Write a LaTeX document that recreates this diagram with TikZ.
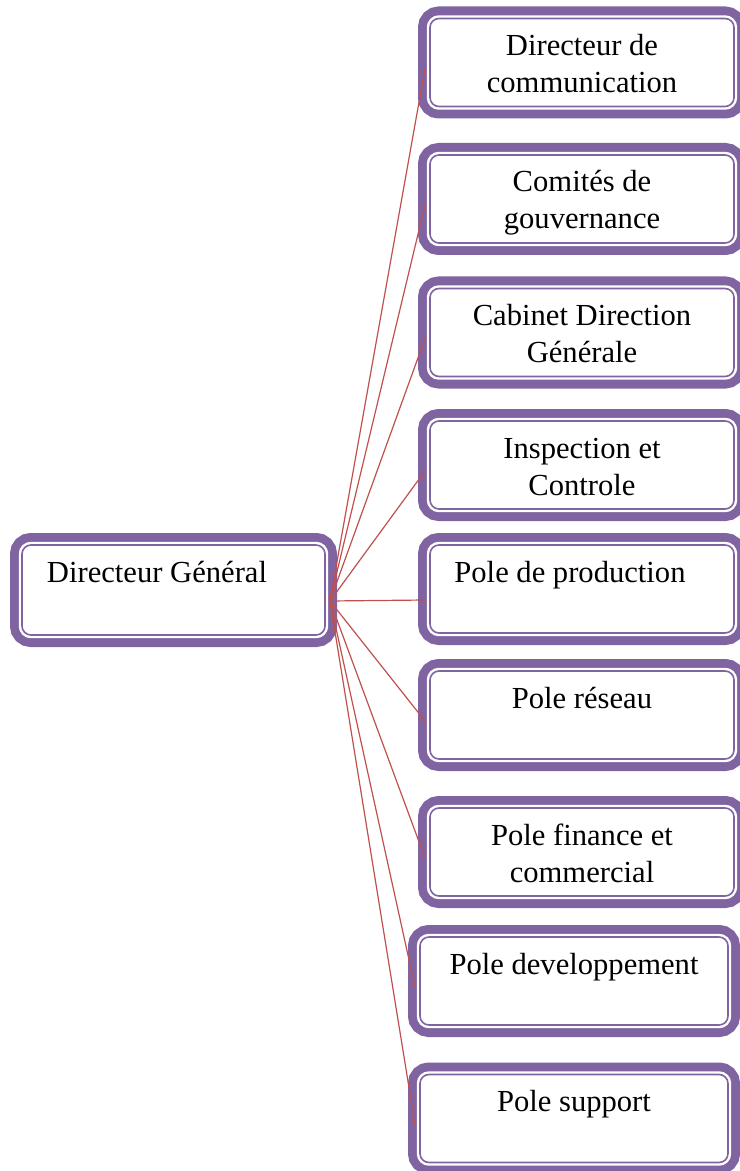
\documentclass[tikz,border=0pt]{standalone}
\usepackage{fontspec}
\setmainfont{Liberation Serif}
\usepackage{tikz}
\definecolor{boxcol}{RGB}{128,100,162}
\definecolor{linecol}{RGB}{192,80,77}
\newcommand{\orgtext}[2]{\parbox[c][44pt][t]{#1}{\centering\rule{0pt}{18.5pt}#2}}

\tikzset{
  orgbox/.style={rectangle, rounded corners=4.5pt, inner sep=0pt, outer sep=2.5pt,
    preaction={draw=boxcol, line width=12pt},
    preaction={draw=white, line width=3.2pt},
    fill=white, draw=boxcol, line width=0.8pt,
    font=\fontsize{15.3}{18.5}\selectfont},
  orgline/.style={draw=linecol, line width=0.6pt}
}

\begin{document}
\begin{tikzpicture}[x=0.5pt, y=-0.5pt]

    \useasboundingbox (0, 0) rectangle (739, 1171);

    \node[orgbox] (dg) at (173.5, 590) {\parbox[c][45pt][t]{151.5pt}{\hspace*{12.5pt}\rule{0pt}{18.5pt}Directeur Général}};

    \node[orgbox] (b1) at (582, 62.5) {\orgtext{152pt}{Directeur de\\communication}};
    \node[orgbox] (b2) at (582, 199) {\orgtext{152pt}{Comités de\\gouvernance}};
    \node[orgbox] (b3) at (582, 332.5) {\orgtext{152pt}{Cabinet Direction\\Générale}};
    \node[orgbox] (b4) at (582, 465) {\orgtext{152pt}{Inspection et\\Controle}};
    \node[orgbox] (b5) at (582, 589) {\orgtext{152pt}{Pole de production\hspace*{12pt}}};
    \node[orgbox] (b6) at (582, 715) {\orgtext{152pt}{Pole réseau}};
    \node[orgbox] (b7) at (582, 852) {\orgtext{152pt}{Pole finance et\\commercial}};
    \node[orgbox] (b8) at (574, 981) {\orgtext{154pt}{Pole developpement}};
    \node[orgbox] (b9) at (574, 1118.5) {\orgtext{154pt}{Pole support}};

    \coordinate (hub) at ([yshift=-5.5pt]dg.east);

    \draw[orgline] (hub) -- ([yshift=-3pt]b1.west);
    \draw[orgline] (hub) -- ([yshift=-3pt]b2.west);
    \draw[orgline] (hub) -- ([yshift=-3pt]b3.west);
    \draw[orgline] (hub) -- ([yshift=-3pt]b4.west);
    \draw[orgline] (hub) -- ([yshift=-5.5pt]b5.west);
    \draw[orgline] (hub) -- ([yshift=-3pt]b6.west);
    \draw[orgline] (hub) -- ([yshift=-3pt]b7.west);
    \draw[orgline] (hub) -- ([yshift=-3pt]b8.west);
    \draw[orgline] (hub) -- ([yshift=-3pt]b9.west);

\end{tikzpicture}
\end{document}
